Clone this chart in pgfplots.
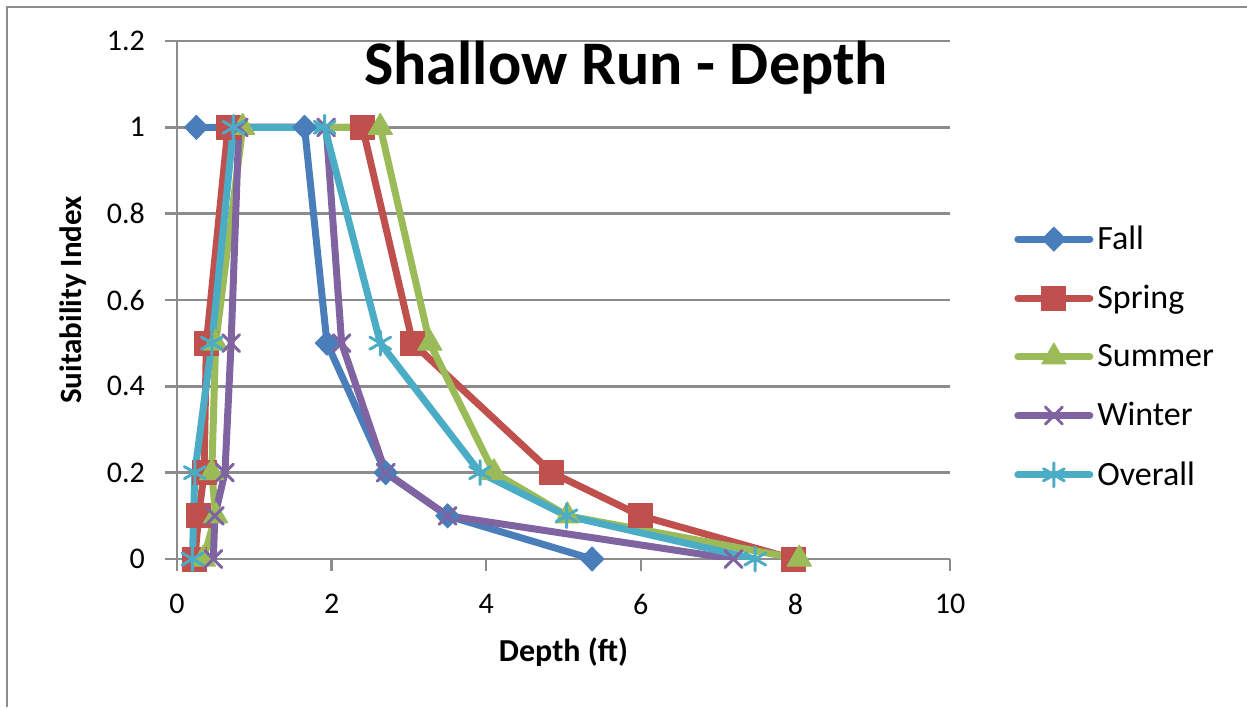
\documentclass[border=0pt]{standalone}
\usepackage{fontspec}
\setmainfont{Carlito}
\usepackage{pgfplots}
\pgfplotsset{compat=1.18}
\definecolor{cfall}{HTML}{4A7EBB}
\definecolor{cspring}{HTML}{C0504D}
\definecolor{csummer}{HTML}{9BBB59}
\definecolor{cwinter}{HTML}{8064A2}
\definecolor{coverall}{HTML}{4BACC6}
\definecolor{gridgray}{HTML}{8C8C8C}
\begin{document}
\begin{tikzpicture}
\path[use as bounding box] (0,0) rectangle (623.5pt,353.5pt);
\draw[gridgray, line width=1.2pt] (3.5pt,0) -- (3.5pt,350pt) -- (623.5pt,350pt);
\begin{axis}[
  at={(88.5pt,74pt)}, anchor=south west,
  scale only axis, width=386.5pt, height=259pt,
  xmin=0, xmax=10, ymin=0, ymax=1.2,
  xtick={0,2,4,6,8,10}, ytick={0,0.2,0.4,0.6,0.8,1,1.2},
  axis x line*=bottom, axis y line*=left,
  axis line style={gridgray, line width=1.2pt, -},
  ymajorgrids, grid style={gridgray, line width=1.2pt},
  tick style={gridgray, line width=1.2pt},
  tick align=outside, major tick length=6pt,
  /pgf/number format/assume math mode=true,
  ticklabel style={font=\fontsize{15}{17}\selectfont},
  xticklabel style={yshift=-8pt},
  yticklabel style={xshift=-6.5pt},
  xlabel={\textbf{Depth (ft)}}, ylabel={\textbf{Suitability Index}},
  every axis x label/.style={at={([yshift=-46.5pt]rel axis cs:0.5,0)}, anchor=center, font=\fontsize{16}{18}\selectfont},
  every axis y label/.style={at={([xshift=-52pt]rel axis cs:0,0.5)}, anchor=center, rotate=90, font=\fontsize{15.5}{18}\selectfont},
  title={\textbf{Shallow Run - Depth}},
  title style={at={([yshift=-5pt]rel axis cs:0.581,0.944)}, anchor=center, font=\fontsize{31}{34}\selectfont},
  legend style={draw=none, fill=none, at={(1.075,0.39)}, anchor=west,
    font=\fontsize{17}{20}\selectfont, row sep=12.4pt},
  legend cell align=left,
  legend image code/.code={
    \draw[#1, mark repeat=2, mark phase=2] plot coordinates {(0pt,0pt) (18pt,0pt) (36pt,0pt)};
  },
  every axis plot/.append style={line width=3.5pt, line join=round, line cap=round},
]
\addplot[cfall, mark=diamond*, mark size=6pt, mark options={solid, line width=0.5pt, fill=cfall, xscale=1.3}] coordinates {
(0.25,1) (1.65,1) (1.94,0.5) (2.7,0.2) (3.5,0.1) (5.37,0)};
\addlegendentry{Fall}
\addplot[cspring, mark=square*, mark size=6pt, mark options={solid, line width=0.5pt, fill=cspring}] coordinates {
(0.23,0) (0.28,0.1) (0.35,0.2) (0.38,0.5) (0.66,1) (2.4,1) (3.05,0.5) (4.85,0.2) (6,0.1) (7.98,0)};
\addlegendentry{Spring}
\addplot[csummer, mark=triangle*, mark size=7pt, mark options={solid, line width=0.5pt, fill=csummer}] coordinates {
(0.34,0) (0.5,0.1) (0.45,0.2) (0.5,0.5) (0.85,1) (2.63,1) (3.27,0.5) (4.1,0.2) (5.05,0.1) (8.05,0)};
\addlegendentry{Summer}
\addplot[cwinter, mark=x, mark size=6pt, mark options={solid, line width=1.5pt}] coordinates {
(0.47,0) (0.49,0.1) (0.62,0.2) (0.7,0.5) (0.8,1) (1.93,1) (2.13,0.5) (2.7,0.2) (3.5,0.1) (7.2,0)};
\addlegendentry{Winter}
\addplot[coverall, mark=asterisk, mark size=6pt, mark options={solid, line width=1.5pt}] coordinates {
(0.2,0) (0.23,0.2) (0.45,0.5) (0.73,1) (1.91,1) (2.63,0.5) (3.92,0.2) (5.04,0.1) (7.48,0)};
\addlegendentry{Overall}
\end{axis}
\end{tikzpicture}
\end{document}
